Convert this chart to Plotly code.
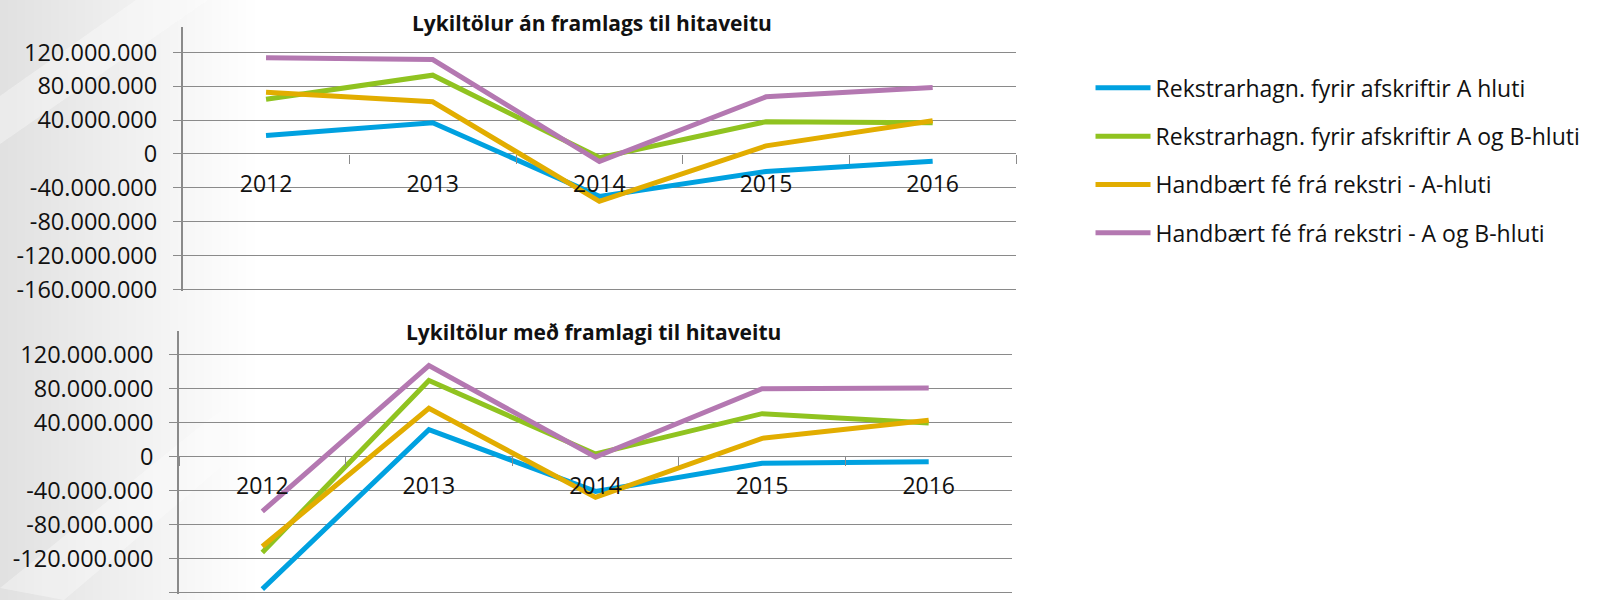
import plotly.graph_objects as go

# ---------------- data ----------------
years = ["2012", "2013", "2014", "2015", "2016"]

series_names = [
    "Rekstrarhagn. fyrir afskriftir A hluti",
    "Rekstrarhagn. fyrir afskriftir A og B-hluti",
    "Handbært fé frá rekstri - A-hluti",
    "Handbært fé frá rekstri - A og B-hluti",
]

# Chart 1: Lykiltölur án framlags til hitaveitu
an_rekstr_a = [21600000, 36800000, -50200000, -20800000, -8600000]
an_rekstr_ab = [64400000, 92900000, -4400000, 38000000, 36800000]
an_handb_a = [72900000, 61500000, -56100000, 9400000, 39200000]
an_handb_ab = [113500000, 111400000, -9100000, 67400000, 78500000]

# Chart 2: Lykiltölur með framlagi til hitaveitu
med_rekstr_a = [-156000000, 31400000, -41200000, -8200000, -6200000]
med_rekstr_ab = [-112900000, 89100000, 2800000, 50200000, 39300000]
med_handb_a = [-105900000, 56500000, -48200000, 21200000, 42400000]
med_handb_ab = [-64700000, 106700000, -800000, 79600000, 80400000]

y_tick_vals = [-160000000, -120000000, -80000000, -40000000, 0,
               40000000, 80000000, 120000000]
y_tick_text = ["-160.000.000", "-120.000.000", "-80.000.000", "-40.000.000", "0",
               "40.000.000", "80.000.000", "120.000.000"]

title_top = "Lykiltölur án framlags til hitaveitu"
title_bottom = "Lykiltölur með framlagi til hitaveitu"

# ---------------- style ----------------
colors = ["#00a1e0", "#90c320", "#e2ad00", "#b478b1"]
grid_color = "#8a8a8a"
font_family = "Open Sans"
text_color = "#111111"
W, H = 1599, 600

# ranges extend ~2px below the last gridline so it is not clipped away
top_range = [-162000000, 149500000]
bot_range = [-162000000, 147700000]
top_dom_y = [0.5150, 0.9545]
bot_dom_y = [0.00967, 0.4488]
top_dom_x = [0.11426, 0.63540]
bot_dom_x = [0.11195, 0.63290]


def zero_pos(dom, rng):
    return dom[0] + (0 - rng[0]) / (rng[1] - rng[0]) * (dom[1] - dom[0])


fig = go.Figure()

top_series = [an_rekstr_a, an_rekstr_ab, an_handb_a, an_handb_ab]
bot_series = [med_rekstr_a, med_rekstr_ab, med_handb_a, med_handb_ab]

for i, (name, vals) in enumerate(zip(series_names, top_series)):
    fig.add_trace(go.Scatter(
        x=years, y=vals, name=name, mode="lines",
        line=dict(color=colors[i], width=5),
        legendgroup=f"g{i}", showlegend=True,
        xaxis="x", yaxis="y",
    ))
for i, (name, vals) in enumerate(zip(series_names, bot_series)):
    fig.add_trace(go.Scatter(
        x=years, y=vals, name=name, mode="lines",
        line=dict(color=colors[i], width=5),
        legendgroup=f"g{i}", showlegend=False,
        xaxis="x2", yaxis="y2",
    ))

x_common = dict(
    type="category", range=[-0.5, 4.5], tickson="boundaries",
    ticks="outside", ticklen=9, tickcolor=grid_color, tickwidth=1.3,
    showgrid=False, showline=False, zeroline=False, automargin=False,
    tickfont=dict(family=font_family, size=23, color=text_color),
    ticklabelstandoff=14, fixedrange=True,
)
y_common = dict(
    tickvals=y_tick_vals, ticktext=y_tick_text,
    showgrid=True, gridcolor=grid_color, gridwidth=1.3,
    zeroline=True, zerolinecolor=grid_color, zerolinewidth=1.3,
    showline=True, linecolor=grid_color, linewidth=1.5, automargin=False,
    ticks="outside", ticklen=8, tickcolor=grid_color, tickwidth=1.3,
    tickfont=dict(family=font_family, size=23.5, color=text_color),
    ticklabelstandoff=11, fixedrange=True,
)

fig.update_layout(
    width=W, height=H,
    margin=dict(l=0, r=0, t=0, b=0, autoexpand=False),
    paper_bgcolor="white", plot_bgcolor="rgba(0,0,0,0)",
    font=dict(family=font_family, color=text_color),
    xaxis=dict(domain=top_dom_x, anchor="free",
               position=zero_pos(top_dom_y, top_range), **x_common),
    yaxis=dict(domain=top_dom_y, range=top_range, anchor="x", **y_common),
    xaxis2=dict(domain=bot_dom_x, anchor="free",
                position=zero_pos(bot_dom_y, bot_range), **x_common),
    yaxis2=dict(domain=bot_dom_y, range=bot_range, anchor="x2", **y_common),
    legend=dict(
        x=0.682, y=0.8893, xanchor="left", yanchor="top",
        font=dict(family=font_family, size=23, color=text_color),
        itemwidth=55, tracegroupgap=15.4, bgcolor="rgba(0,0,0,0)",
    ),
    showlegend=True,
)

fig.add_annotation(text=f"<b>{title_top}</b>", xref="paper", yref="paper",
                   x=0.3700, y=1 - 23 / H, xanchor="center", yanchor="middle",
                   showarrow=False, font=dict(family=font_family, size=21, color=text_color))
fig.add_annotation(text=f"<b>{title_bottom}</b>", xref="paper", yref="paper",
                   x=0.3709, y=1 - 332 / H, xanchor="center", yanchor="middle",
                   showarrow=False, font=dict(family=font_family, size=21, color=text_color))

# background: soft grey slide gradient on the left side
shapes = []
for k in range(1, 31):
    shapes.append(dict(type="rect", xref="paper", yref="paper",
                       x0=0, x1=k * 8.5 / W, y0=0, y1=1, layer="below",
                       line=dict(width=0), fillcolor="rgba(0,0,0,0.0040)"))
# lighter diagonal bands (softened with stacked translucent layers)
band_paths = [
    "M 0 0.84 L 0.085 1 L 0.13 1 L 0 0.76 Z",
    "M 0 0.02 L 0.13 0.30 L 0.21 0.45 L 0.24 0.45 L 0.04 0.0 Z",
]
for pth in band_paths:
    for op in (0.2, 0.2):
        shapes.append(dict(type="path", xref="paper", yref="paper", layer="below",
                           path=pth, line=dict(width=0),
                           fillcolor=f"rgba(255,255,255,{op})"))
fig.update_layout(shapes=shapes)

# place the figure flush with the page corner (no default body margin)
fig.write_html("out.html",
               post_script="document.body.style.margin='0';document.body.style.overflow='hidden';",
               config={"displayModeBar": False})
